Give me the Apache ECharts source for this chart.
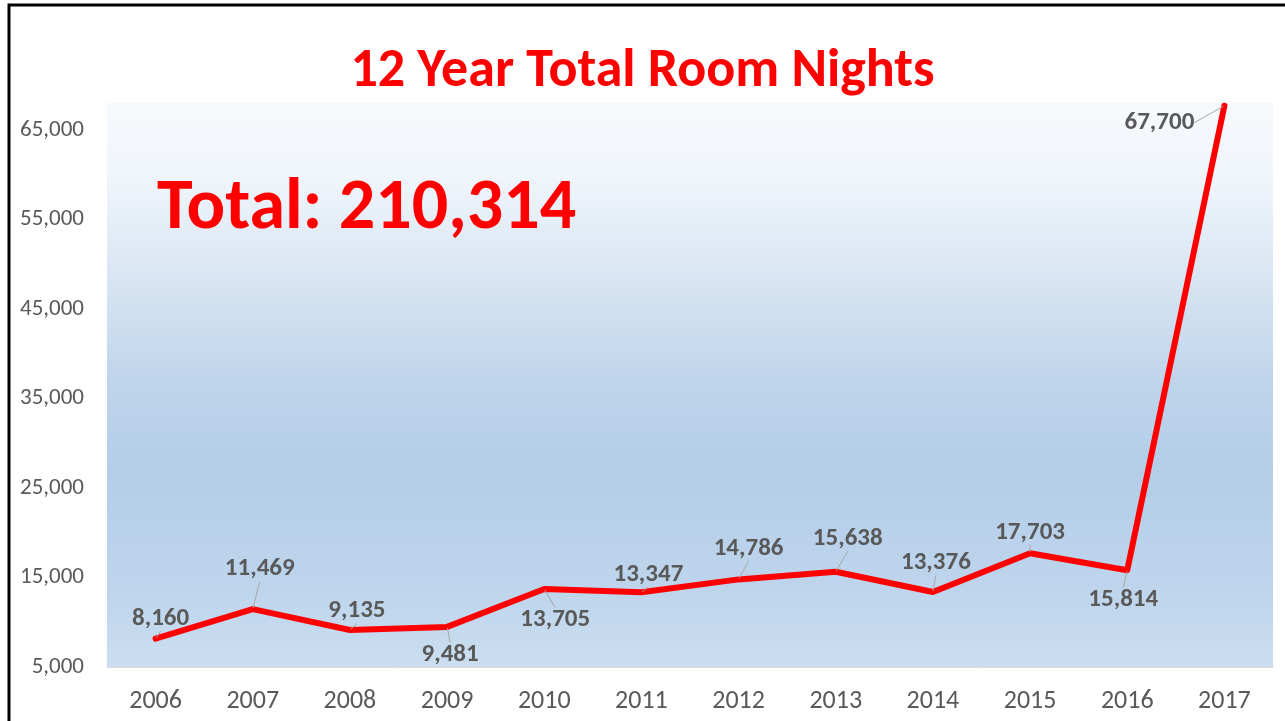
<!DOCTYPE html>
<html>
<head>
<meta charset="utf-8">
<script src="https://cdn.jsdelivr.net/npm/echarts@6/dist/echarts.min.js"></script>
<style>
html,body{margin:0;padding:0;background:#fff;}
#chart{width:1285px;height:721px;}
</style>
</head>
<body>
<div id="chart"></div>
<script>
// ---- data ----
var years = ['2006','2007','2008','2009','2010','2011','2012','2013','2014','2015','2016','2017'];
var roomNights = [8160, 11469, 9135, 9481, 13705, 13347, 14786, 15638, 13376, 17703, 15814, 67700];
var titleText = '12 Year Total Room Nights';
var totalText = 'Total: 210,314';

// ---- label placement (pixel offsets from each point) ----
var labelOffsets = [[5,-20],[7,-40],[7,-19],[3,28],[11,31],[7,-18],[10,-31],[12,-33],[3,-29],[0,-21],[-4,30],[-65,17]];

var FONT = 'Carlito, Lato, "Open Sans", sans-serif';
var chart = echarts.init(document.getElementById('chart'));

var option = {
  animation: false,
  backgroundColor: '#ffffff',
  title: {
    text: titleText,
    left: 'center',
    top: 40,
    textStyle: { color: '#ff0000', fontSize: 54, fontWeight: 'bold', fontFamily: FONT }
  },
  grid: {
    left: 107, right: 12, top: 103, bottom: 54,
    show: true,
    borderWidth: 0,
    backgroundColor: new echarts.graphic.LinearGradient(0, 0, 0, 1, [
      { offset: 0, color: '#f6f9fc' },
      { offset: 0.12, color: '#f1f6fb' },
      { offset: 0.3, color: '#dae6f3' },
      { offset: 0.5, color: '#bed4eb' },
      { offset: 0.65, color: '#b4cee8' },
      { offset: 0.85, color: '#bdd4ec' },
      { offset: 1, color: '#cbdef0' }
    ])
  },
  xAxis: {
    type: 'category',
    data: years,
    boundaryGap: true,
    axisLine: { show: true, lineStyle: { color: '#d9d9d9', width: 1 } },
    axisTick: { show: false },
    axisLabel: { color: '#595959', fontSize: 26, fontFamily: FONT, margin: 21 },
    splitLine: { show: false }
  },
  yAxis: {
    type: 'value',
    min: 5000,
    max: 68000,
    interval: 10000,
    axisLine: { show: false },
    axisTick: { show: false },
    splitLine: { show: false },
    axisLabel: {
      showMaxLabel: false,
      color: '#595959', fontSize: 23, fontFamily: FONT, margin: 23,
      formatter: function (v) { return v % 10000 === 5000 ? v.toLocaleString('en-US') : ''; }
    }
  },
  graphic: [
    {
      type: 'rect', silent: true, z: 100,
      shape: { x: 9, y: 5, width: 1290, height: 740 },
      style: { fill: 'none', stroke: '#000000', lineWidth: 3 }
    },
    {
      type: 'text', z: 50, left: 157, top: 174,
      style: { text: totalText, fill: '#ff0000', font: 'bold 72px ' + FONT }
    }
  ],
  series: [{
    type: 'line',
    data: roomNights,
    symbol: 'circle',
    symbolSize: 2,
    showSymbol: true,
    itemStyle: { color: '#ff0000' },
    lineStyle: { color: '#ff0000', width: 6, join: 'round', cap: 'round' },
    label: {
      show: true,
      position: 'inside',
      color: '#595959',
      fontSize: 25,
      fontWeight: 'bold',
      fontFamily: FONT,
      formatter: function (p) { return p.value.toLocaleString('en-US'); }
    },
    labelLine: { show: true, lineStyle: { color: '#a6a6a6', width: 1 } },
    labelLayout: function (p) {
      var o = labelOffsets[p.dataIndex];
      return { dx: o[0], dy: o[1] };
    }
  }]
};
chart.setOption(option);
</script>
</body>
</html>
